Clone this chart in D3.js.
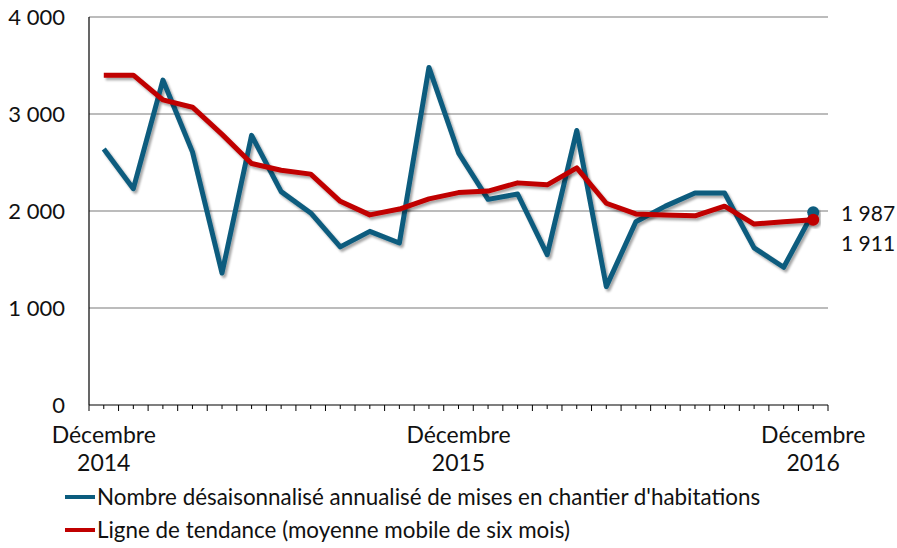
<!DOCTYPE html>
<html>
<head>
<meta charset="utf-8">
<script src="https://cdn.jsdelivr.net/npm/d3@7"></script>
<style>
  body { margin: 0; background: #fff; }
  svg text { font-family: Lato, "Open Sans", sans-serif; fill: #111; }
</style>
</head>
<body>
<div id="chart"></div>
<script>
// 25 mois, décembre 2014 à décembre 2016
var months = d3.range(25);
var monthLabels = {0: ["Décembre", "2014"], 12: ["Décembre", "2015"], 24: ["Décembre", "2016"]};

var mises = [2640, 2230, 3350, 2610, 1360, 2780, 2200, 1980, 1630, 1790, 1670, 3480, 2600,
             2120, 2175, 1550, 2830, 1220, 1890, 2050, 2185, 2185, 1620, 1420, 1987];
var tendance = [3400, 3400, 3145, 3070, 2790, 2490, 2420, 2380, 2100, 1960, 2020, 2125, 2190,
                2205, 2290, 2270, 2445, 2080, 1970, 1960, 1950, 2050, 1865, 1890, 1911];

var yTicks = [0, 1000, 2000, 3000, 4000];
var legendLabels = ["Nombre désaisonnalisé annualisé de mises en chantier d'habitations",
                    "Ligne de tendance (moyenne mobile de six mois)"];
var colors = ["#0b5c7e", "#c00000"];

var width = 897, height = 548;
var margin = {left: 89, right: 69, top: 17, bottom: 143};

var svg = d3.select("#chart").append("svg")
    .attr("width", width)
    .attr("height", height);

var defs = svg.append("defs");
defs.append("filter")
    .attr("id", "shadow")
    .attr("x", "-10%").attr("y", "-10%")
    .attr("width", "120%").attr("height", "130%")
  .append("feDropShadow")
    .attr("dx", 2).attr("dy", 2.5)
    .attr("stdDeviation", 1.3)
    .attr("flood-color", "#000")
    .attr("flood-opacity", 0.35);

var x = d3.scaleBand()
    .domain(months)
    .range([margin.left, width - margin.right]);

var y = d3.scaleLinear()
    .domain([0, 4000])
    .range([height - margin.bottom, margin.top]);

var fmt = function (v) { return d3.format(",")(v).replace(/,/g, " "); };

// grid
svg.append("g")
  .selectAll("line")
  .data(yTicks.filter(function (d) { return d > 0; }))
  .enter().append("line")
    .attr("x1", margin.left)
    .attr("x2", width - margin.right)
    .attr("y1", function (d) { return y(d); })
    .attr("y2", function (d) { return y(d); })
    .attr("stroke", "#a6a6a6")
    .attr("stroke-width", 1.5);

// y labels
svg.append("g")
  .selectAll("text")
  .data(yTicks)
  .enter().append("text")
    .attr("x", 65)
    .attr("y", function (d) { return y(d); })
    .attr("dy", "0.35em")
    .attr("text-anchor", "end")
    .style("font-size", "22px")
    .text(fmt);

// axes lines
svg.append("line")
    .attr("x1", margin.left).attr("x2", margin.left)
    .attr("y1", y(4000)).attr("y2", y(0))
    .attr("stroke", "#000").attr("stroke-width", 1.2);

var xAxis = svg.append("g");
xAxis.append("line")
    .attr("x1", margin.left).attr("x2", width - margin.right)
    .attr("y1", y(0)).attr("y2", y(0))
    .attr("stroke", "#000").attr("stroke-width", 1.2);

// ticks: category boundaries + centres
var bounds = months.map(function (d) { return x(d); }).concat([x(24) + x.bandwidth()]);
xAxis.selectAll("line.major")
  .data(bounds)
  .enter().append("line")
    .attr("class", "major")
    .attr("x1", function (d) { return d; })
    .attr("x2", function (d) { return d; })
    .attr("y1", y(0)).attr("y2", y(0) + 6)
    .attr("stroke", "#000").attr("stroke-width", 1);
xAxis.selectAll("line.minor")
  .data(months)
  .enter().append("line")
    .attr("class", "minor")
    .attr("x1", function (d) { return x(d) + x.bandwidth() / 2; })
    .attr("x2", function (d) { return x(d) + x.bandwidth() / 2; })
    .attr("y1", y(0)).attr("y2", y(0) + 4)
    .attr("stroke", "#000").attr("stroke-width", 1);

var xl = xAxis.selectAll("text.month")
  .data(Object.keys(monthLabels).map(Number))
  .enter().append("text")
    .attr("class", "month")
    .attr("x", function (d) { return x(d) + x.bandwidth() / 2; })
    .attr("y", 443)
    .attr("text-anchor", "middle")
    .style("font-size", "23px");
xl.append("tspan")
    .attr("x", function (d) { return x(d) + x.bandwidth() / 2; })
    .text(function (d) { return monthLabels[d][0]; });
xl.append("tspan")
    .attr("x", function (d) { return x(d) + x.bandwidth() / 2; })
    .attr("dy", 28)
    .text(function (d) { return monthLabels[d][1]; });

// lines
var line = d3.line()
    .x(function (d, i) { return x(i) + x.bandwidth() / 2; })
    .y(function (d) { return y(d); });

[mises, tendance].forEach(function (series, k) {
  svg.append("path")
      .datum(series)
      .attr("d", line)
      .attr("fill", "none")
      .attr("stroke", colors[k])
      .attr("stroke-width", 5)
      .attr("stroke-linejoin", "round")
      .attr("filter", "url(#shadow)");
});

[mises, tendance].forEach(function (series, k) {
  var last = series.length - 1;
  svg.append("circle")
      .attr("cx", x(last) + x.bandwidth() / 2)
      .attr("cy", y(series[last]))
      .attr("r", 6)
      .attr("fill", colors[k])
      .attr("filter", "url(#shadow)");
  svg.append("text")
      .attr("x", 841)
      .attr("y", y(series[last]) + (k === 0 ? 1 : 24))
      .attr("dy", "0.35em")
      .style("font-size", "21px")
      .text(fmt(series[last]));
});

// legend
var legend = svg.append("g");
legendLabels.forEach(function (lab, k) {
  var ly = 497 + k * 33;
  legend.append("line")
      .attr("x1", 65).attr("x2", 95)
      .attr("y1", ly).attr("y2", ly)
      .attr("stroke", colors[k])
      .attr("stroke-width", 4);
  legend.append("text")
      .attr("x", 97)
      .attr("y", ly)
      .attr("dy", "0.35em")
      .style("font-size", "22.4px")
      .text(lab);
});
</script>
</body>
</html>
